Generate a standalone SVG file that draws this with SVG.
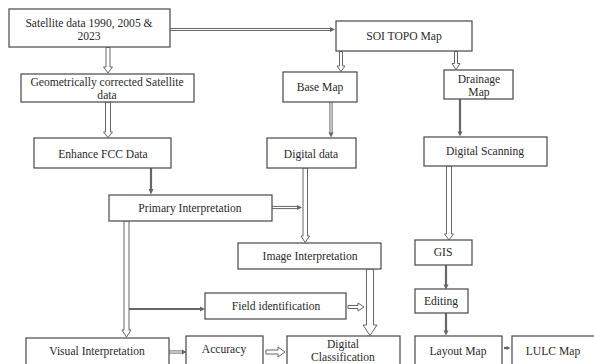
<svg xmlns="http://www.w3.org/2000/svg" width="594" height="364" viewBox="0 0 594 364">
<defs>
<style>
.box{fill:#fff;stroke:#555;stroke-width:1.3}
text{font-family:"Liberation Serif","Times New Roman",serif;font-size:11.6px;fill:#2a2a2a;text-anchor:middle}
.dl{stroke:#666;stroke-width:3.2;fill:none}
.dli{stroke:#fff;stroke-width:1.2;fill:none}
.sl{stroke:#666;stroke-width:2.2;fill:none}
.ha{fill:#fff;stroke:#666;stroke-width:1}
.head{fill:#666}
</style>
</defs>
<rect width="594" height="364" fill="#fff"/>
<g id="connectors">
  <line class="dl" x1="170" y1="29.5" x2="331" y2="29.5"/>
  <line class="dli" x1="170" y1="29.5" x2="331" y2="29.5"/>
  <polygon class="head" points="335,29.5 330,27 330,32"/>
  <polygon class="ha" points="106,47.5 110,47.5 110,67 112.5,67 108,73 103.5,67 106,67"/>
  <polygon class="ha" points="105.5,102 110.5,102 110.5,132 112.5,132 108,137.5 103.5,132 105.5,132"/>
  <line class="sl" x1="151" y1="168" x2="151" y2="190"/>
  <polygon class="head" points="151,194.5 148.5,189 153.5,189"/>
  <line class="dl" x1="272" y1="207.5" x2="298" y2="207.5"/>
  <line class="dli" x1="272" y1="207.5" x2="298" y2="207.5"/>
  <polygon class="head" points="302,207.5 297,205 297,210"/>
  <polygon class="ha" points="124,221 129,221 129,330 131,330 126.5,337 122,330 124,330"/>
  <line class="sl" x1="129" y1="309" x2="201" y2="309"/>
  <polygon class="head" points="205,309 200,306.5 200,311.5"/>
  <polygon class="ha" points="339.5,51.5 342.5,51.5 342.5,66 345,66 341,71.5 337,66 339.5,66"/>
  <polygon class="ha" points="454.5,51.5 457.5,51.5 457.5,63.5 460,63.5 456,69.5 452,63.5 454.5,63.5"/>
  <line class="dl" x1="331" y1="102" x2="331" y2="133"/>
  <line class="dli" x1="331" y1="102" x2="331" y2="133"/>
  <polygon class="head" points="331,137.5 328.5,132.5 333.5,132.5"/>
  <line class="sl" x1="460" y1="99" x2="460" y2="132"/>
  <polygon class="head" points="460,136.5 457.5,131.5 462.5,131.5"/>
  <polygon class="ha" points="303,168 307.5,168 307.5,236 309.5,236 305.2,242.5 301,236 303,236"/>
  <polygon class="ha" points="446.5,166 451.5,166 451.5,234 453.5,234 449,240 444.5,234 446.5,234"/>
  <polygon class="ha" points="366.5,269 373.5,269 373.5,325 377,325 370,335.5 363,325 366.5,325"/>
  <polygon class="ha" points="348,305.5 358,305.5 358,303 364,307 358,311 358,308.5 348,308.5"/>
  <line class="dl" x1="169" y1="352" x2="183" y2="352"/>
  <line class="dli" x1="169" y1="352" x2="183" y2="352"/>
  <polygon class="head" points="186.5,352 182,349.5 182,354.5"/>
  <polygon class="ha" points="266,350 278,350 278,347 285,352 278,357 278,354 266,354"/>
  <line class="sl" x1="446" y1="265" x2="446" y2="285"/>
  <polygon class="head" points="446,289.5 443.5,284.5 448.5,284.5"/>
  <line class="sl" x1="446" y1="313" x2="446" y2="331"/>
  <polygon class="head" points="446,335.5 443.5,330.5 448.5,330.5"/>
  <line class="sl" x1="504" y1="348" x2="507" y2="348"/>
  <polygon class="head" points="510.5,348 506.5,346 506.5,350"/>
</g>
<g id="satellite"><rect class="box" x="9" y="9" width="161" height="38"/><text x="89" y="27">Satellite data 1990, 2005 &amp;</text><text x="89" y="40">2023</text></g>
<g id="geometric"><rect class="box" x="21" y="74" width="173" height="28"/><text x="107" y="86">Geometrically  corrected  Satellite</text><text x="107" y="99">data</text></g>
<g id="soi"><rect class="box" x="336" y="21" width="136" height="30"/><text x="404" y="40">SOI TOPO  Map</text></g>
<g id="basemap"><rect class="box" x="283" y="72" width="74" height="30"/><text x="320" y="91">Base Map</text></g>
<g id="drainage"><rect class="box" x="444" y="70" width="69" height="29"/><text x="479" y="83">Drainage</text><text x="479" y="96">Map</text></g>
<g id="enhance"><rect class="box" x="34" y="138" width="137" height="30"/><text x="103" y="158">Enhance  FCC Data</text></g>
<g id="digitaldata"><rect class="box" x="267" y="138" width="89" height="30"/><text x="311" y="158">Digital data</text></g>
<g id="scanning"><rect class="box" x="424" y="137" width="123" height="29"/><text x="485" y="155">Digital  Scanning</text></g>
<g id="primary"><rect class="box" x="109" y="195" width="163" height="26"/><text x="190" y="212">Primary  Interpretation</text></g>
<g id="image"><rect class="box" x="238" y="243" width="143" height="26"/><text x="310" y="260">Image  Interpretation</text></g>
<g id="gis"><rect class="box" x="415" y="240" width="57" height="25"/><text x="443" y="256">GIS</text></g>
<g id="field"><rect class="box" x="205" y="293" width="141" height="26"/><text x="276" y="310">Field identification</text></g>
<g id="editing"><rect class="box" x="415" y="289" width="53" height="24"/><text x="441" y="305">Editing</text></g>
<g id="visual"><rect class="box" x="26" y="338" width="143" height="30"/><text x="97" y="355">Visual  Interpretation</text></g>
<g id="accuracy"><rect class="box" x="186" y="336" width="77" height="32"/><text x="224" y="353">Accuracy</text></g>
<g id="classification"><rect class="box" x="287" y="336" width="113" height="32"/><text x="343" y="348">Digital</text><text x="343" y="361">Classification</text></g>
<g id="layout"><rect class="box" x="415" y="336" width="87" height="32"/><text x="458" y="355">Layout  Map</text></g>
<g id="lulc"><rect class="box" x="512" y="336" width="83" height="32"/><text x="553" y="355">LULC Map</text></g>
</svg>
